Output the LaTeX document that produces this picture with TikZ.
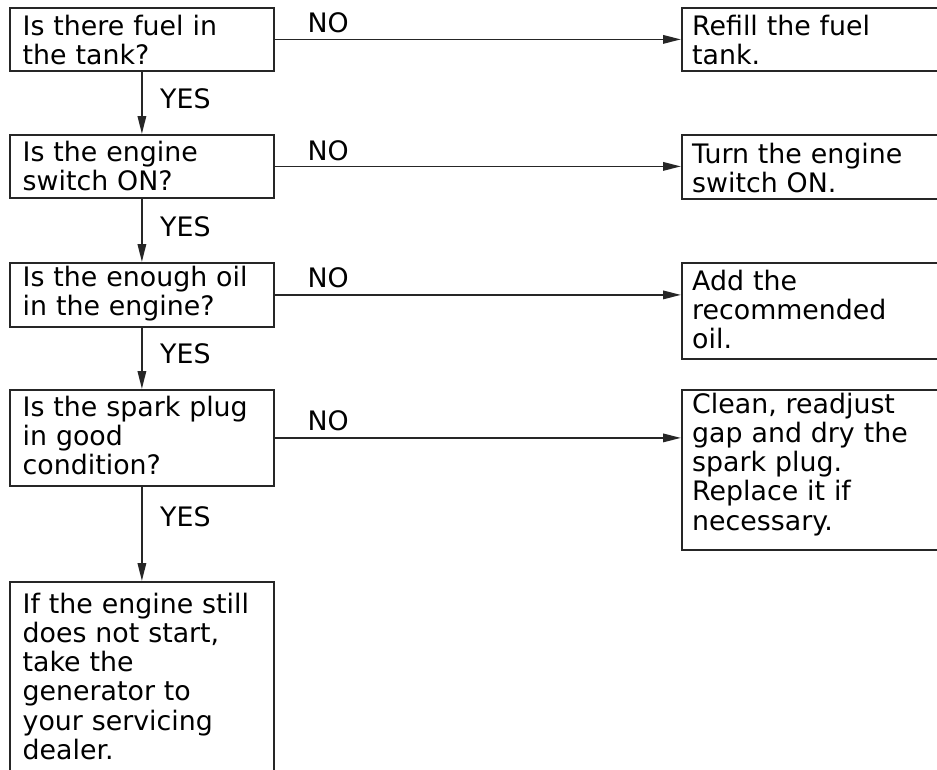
\documentclass[tikz,border=0pt]{standalone}
\usepackage{fontspec}
\setmainfont{DejaVu Sans}
\usetikzlibrary{arrows.meta}
\begin{document}
\begin{tikzpicture}[x=1pt,y=-1pt,
  box/.style={draw=black!85, line width=1.8pt, inner sep=0pt, anchor=north west, rectangle},
  lbox/.style={box, minimum width=264pt},
  rbox/.style={box, minimum width=290pt},
  txt/.style={anchor=base west, inner sep=0pt, text width=400pt, align=left, font=\fontsize{26.8}{29.3}\selectfont},
  lbl/.style={anchor=base west, inner sep=0pt, font=\fontsize{26.8}{29.3}\selectfont},
  arr/.style={line width=1.6pt, draw=black!85, -{Triangle[length=18pt,width=8.5pt]}}]
\clip (0,0) rectangle (937,769);
% question boxes
\node[lbox, minimum height=63pt] (q1) at (9,7) {};
\node[lbox, minimum height=63pt] (q2) at (9,134) {};
\node[lbox, minimum height=64pt] (q3) at (9,262) {};
\node[lbox, minimum height=96pt] (q4) at (9,389) {};
\node[lbox, minimum height=230pt] (q5) at (9,581) {};
% action boxes
\node[rbox, minimum height=63pt] (r1) at (681,7) {};
\node[rbox, minimum height=64pt] (r2) at (681,134) {};
\node[rbox, minimum height=96pt] (r3) at (681,262) {};
\node[rbox, minimum height=160pt] (r4) at (681,389) {};
% texts
\node[txt] (t1) at (22.5,35) {Is there fuel in\\the tank?};
\node[txt] (t2) at (22.5,161) {Is the engine\\switch ON?};
\node[txt] (t3) at (22.5,286) {Is the enough oil\\in the engine?};
\node[txt] (t4) at (22.5,416) {Is the spark plug\\in good\\condition?};
\node[txt] (t5) at (22.5,613) {If the engine still\\does not start,\\take the\\generator to\\your servicing\\dealer.};
\node[txt] (s1) at (692,35) {Refill the fuel\\tank.};
\node[txt] (s2) at (692,163) {Turn the engine\\switch ON.};
\node[txt] (s3) at (692,290) {Add the\\recommended\\oil.};
\node[txt] (s4) at (692,413) {Clean, readjust\\gap and dry the\\spark plug.\\Replace it if\\necessary.};
% YES connectors
\draw[arr] (q1.south) -- (q2.north);
\draw[arr] (q2.south) -- (q3.north);
\draw[arr] (q3.south) -- (q4.north);
\draw[arr] (q4.south) -- (q5.north);
\node[lbl] (y1) at (160,108) {YES};
\node[lbl] (y2) at (160,236) {YES};
\node[lbl] (y3) at (160,363) {YES};
\node[lbl] (y4) at (160,526) {YES};
% NO connectors
\draw[arr] (q1.east) -- (q1.east -| r1.west);
\draw[arr] (q2.east) -- (q2.east -| r2.west);
\draw[arr] (q3.east) -- (q3.east -| r3.west);
\draw[arr] (q4.east) -- (q4.east -| r4.west);
\node[lbl] (n1) at (307.5,32) {NO};
\node[lbl] (n2) at (307.5,160) {NO};
\node[lbl] (n3) at (307.5,287) {NO};
\node[lbl] (n4) at (307.5,430) {NO};
\end{tikzpicture}
\end{document}
